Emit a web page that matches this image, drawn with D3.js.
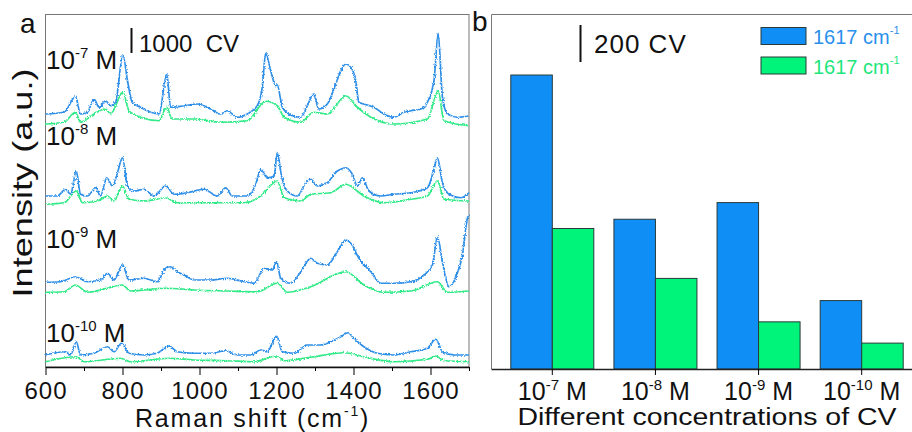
<!DOCTYPE html>
<html>
<head>
<meta charset="utf-8">
<script src="https://cdn.jsdelivr.net/npm/d3@7"></script>
<style>
  body { margin: 0; background: #fff; }
  svg { font-family: Arial, "Liberation Sans", sans-serif; }
</style>
</head>
<body>
<div id="chart"></div>
<script>
// ---- panel a: SERS spectra, [Raman shift, intensity] ----
const blue7 = [[600,10120],[648,10190],[678,10810],[691,10120],[709,10190],[726,10720],[739,10390],[756,10650],[769,10450],[782,10590],[801,12490],[813,11450],[825,10590],[847,10390],[873,10190],[895,10120],[915,11720],[925,10390],[960,10450],[994,10520],[1029,10320],[1055,10120],[1072,10250],[1098,9990],[1124,10120],[1150,10450],[1163,11190],[1172,12550],[1185,11850],[1198,11250],[1202,11290],[1215,10390],[1241,10050],[1263,9990],[1280,10450],[1296,10920],[1310,10320],[1332,10520],[1354,11320],[1367,11850],[1380,12120],[1393,11990],[1406,11450],[1414,10590],[1427,10520],[1453,10390],[1479,10120],[1505,9990],[1531,10190],[1549,10250],[1575,10320],[1592,10590],[1609,11450],[1620,13350],[1631,10790],[1644,10120],[1670,9990],[1700,10050]];
const green7 = [[600,9720],[648,9790],[678,10190],[691,9790],[726,10120],[756,10320],[769,10120],[801,10990],[817,10250],[847,9990],[895,9850],[915,10390],[929,9920],[986,9920],[1055,9790],[1124,9850],[1172,10630],[1202,10450],[1220,9990],[1263,9790],[1296,10190],[1332,10120],[1380,10850],[1410,10390],[1445,9990],[1505,9720],[1592,9920],[1620,11050],[1635,9850],[1700,9650]];

const blue8 = [[600,6840],[631,6840],[652,7110],[665,6910],[680,7840],[691,6910],[709,6840],[730,7170],[743,6840],[759,7570],[774,7240],[787,7770],[800,8370],[813,7240],[830,7040],[856,7110],[882,6840],[912,7240],[934,6910],[968,6970],[1012,7110],[1046,6840],[1068,7170],[1085,6840],[1124,6840],[1146,7310],[1159,7910],[1176,7570],[1194,7640],[1202,8570],[1213,7640],[1228,7040],[1254,6840],[1276,7370],[1289,7510],[1306,7240],[1332,7370],[1358,7840],[1367,7910],[1380,7970],[1397,7710],[1410,7240],[1423,7570],[1440,7040],[1471,6840],[1505,6910],[1549,6970],[1592,7170],[1609,7910],[1618,8370],[1631,7370],[1648,6910],[1679,6770],[1700,6970]];
const green8 = [[600,6510],[648,6570],[680,7040],[696,6570],[735,6640],[761,6840],[778,6640],[800,7240],[817,6710],[856,6640],[912,6770],[942,6570],[1029,6570],[1116,6570],[1159,6840],[1202,7440],[1220,6770],[1263,6640],[1289,6910],[1341,6970],[1380,7310],[1427,6840],[1479,6570],[1549,6710],[1592,6840],[1618,7440],[1635,6710],[1700,6640]];

const blue9 = [[600,3390],[639,3410],[678,3610],[709,3410],[743,3480],[761,3750],[778,3480],[800,4080],[817,3480],[856,3550],[890,3410],[912,3950],[925,4010],[942,3810],[960,3680],[986,3480],[1029,3480],[1072,3550],[1116,3410],[1142,3350],[1168,3950],[1189,3880],[1200,4210],[1211,3550],[1237,3350],[1263,3810],[1289,4350],[1306,4150],[1332,4080],[1358,4610],[1380,5080],[1393,4950],[1414,4350],[1445,3810],[1471,3350],[1505,3350],[1549,3410],[1583,3680],[1605,4080],[1618,5210],[1631,4210],[1648,3210],[1666,3610],[1683,4480],[1696,5950],[1700,6080]];
const green9 = [[600,2990],[648,3010],[678,3280],[709,2990],[761,3150],[800,3280],[821,3040],[912,3150],[986,3080],[1072,3040],[1150,3010],[1202,3350],[1228,2990],[1289,3210],[1380,3810],[1427,3280],[1479,2990],[1549,3040],[1618,3410],[1644,2990],[1700,3040]];

const blue10 = [[600,480],[652,610],[665,480],[680,1010],[691,480],[726,550],[761,810],[778,610],[797,950],[817,550],[856,480],[890,550],[921,840],[942,610],[986,550],[1029,550],[1068,650],[1098,480],[1133,480],[1159,680],[1176,610],[1200,1240],[1215,610],[1246,550],[1280,880],[1315,880],[1341,1010],[1367,1210],[1386,1370],[1401,1150],[1427,810],[1462,550],[1505,480],[1549,610],[1592,750],[1614,1110],[1631,610],[1661,480],[1700,480]];
const green10 = [[600,210],[680,410],[700,210],[795,350],[821,210],[921,350],[986,280],[1072,250],[1142,210],[1200,440],[1220,250],[1289,390],[1375,570],[1427,410],[1505,210],[1592,310],[1614,440],[1635,250],[1700,210]];

const spectraBlue = [blue7, blue8, blue9, blue10];
const spectraGreen = [green7, green8, green9, green10];
const spectraLabels = ["-7", "-8", "-9", "-10"];
const spectraLabelLevels = [11930, 8880, 4760, 1000];
const xTicksA = [600, 800, 1000, 1200, 1400, 1600];
const xMinorA = [700, 900, 1100, 1300, 1500, 1700];

// ---- panel b: 1617 cm-1 peak intensity per concentration ----
const concentrations = ["-7", "-8", "-9", "-10"];
const peakBlue = [1590, 810, 900, 370];
const peakGreen = [760, 490, 255, 140];
const legendLabels = ["1617 cm", "1617 cm"];

const blueLine = "#2e8fe8", greenLine = "#30ea88";
const blueBar = "#0f8ff6", greenBar = "#00f47a";

const svg = d3.select("#chart").append("svg")
  .attr("width", 912).attr("height", 432);

// rough texture so the spectra look like measured, noisy traces
const defs = svg.append("defs");
const rough = defs.append("filter").attr("id", "rough")
  .attr("x", "-2%").attr("y", "-20%").attr("width", "104%").attr("height", "140%");
rough.append("feTurbulence")
  .attr("type", "fractalNoise").attr("baseFrequency", "0.9 0.6")
  .attr("numOctaves", 2).attr("seed", 3).attr("result", "n");
rough.append("feDisplacementMap")
  .attr("in", "SourceGraphic").attr("in2", "n")
  .attr("scale", 3.2).attr("xChannelSelector", "R").attr("yChannelSelector", "G");

function drawSpectra() {
  const x = d3.scaleLinear().domain([600, 1700]).range([45.5, 469]);
  const y = d3.scaleLinear().domain([0, 14120]).range([367, 14]);

  const g = svg.append("g");

  g.append("rect")
    .attr("x", 45.5).attr("y", 14.5)
    .attr("width", 469 - 45.5).attr("height", 367 - 14.5)
    .attr("fill", "none").attr("stroke", "#777").attr("stroke-width", 1);

  const line = d3.line()
    .x(d => x(d[0]))
    .y(d => y(d[1]))
    .curve(d3.curveMonotoneX);

  const traces = g.append("g").attr("filter", "url(#rough)");

  spectraGreen.forEach(s => {
    traces.append("path").datum(s)
      .attr("d", line).attr("fill", "none")
      .attr("stroke", greenLine).attr("stroke-width", 1.7)
      .attr("stroke-linejoin", "round");
  });
  spectraBlue.forEach(s => {
    traces.append("path").datum(s)
      .attr("d", line).attr("fill", "none")
      .attr("stroke", blueLine).attr("stroke-width", 1.7)
      .attr("stroke-linejoin", "round");
  });

  spectraLabels.forEach((lab, i) => {
    let t = g.append("text")
      .attr("x", 46).attr("y", y(spectraLabelLevels[i]))
      .attr("font-size", 26).attr("fill", "#111");
    t.append("tspan").text("10");
    t.append("tspan").text(lab).attr("font-size", 15).attr("dy", -11);
    t.append("tspan").text(" M").attr("dy", 11);
  });

  // 1000 CV scale bar
  g.append("line")
    .attr("x1", 131.5).attr("x2", 131.5)
    .attr("y1", y(0)).attr("y2", y(1000))
    .attr("transform", "translate(0," + (53 - y(0)) + ")")
    .attr("stroke", "#111").attr("stroke-width", 2);
  g.append("text")
    .attr("x", 139).attr("y", 52)
    .attr("font-size", 24).attr("fill", "#111")
    .attr("xml:space", "preserve")
    .text("1000  CV");

  const axis = g.append("g")
    .attr("transform", "translate(0,367)")
    .call(d3.axisBottom(x).tickValues(xTicksA).tickFormat(d3.format("d"))
      .tickSize(8).tickSizeOuter(0).tickPadding(7));
  axis.select(".domain").attr("stroke", "#111").attr("stroke-width", 1.3);
  axis.selectAll("text").attr("font-size", 24).attr("fill", "#111")
    .attr("font-family", "Arial, 'Liberation Sans', sans-serif")
    .style("letter-spacing", "1px");

  g.append("g")
    .attr("transform", "translate(0,367)")
    .call(d3.axisBottom(x).tickValues(xMinorA).tickSize(4).tickFormat(""))
    .select(".domain").remove();

  let xl = g.append("text")
    .attr("x", 135).attr("y", 427)
    .attr("font-size", 25).attr("fill", "#111")
    .style("letter-spacing", "1.8px");
  xl.append("tspan").text("Raman shift (cm");
  xl.append("tspan").text("-1").attr("font-size", 14).attr("dy", -11);
  xl.append("tspan").text(")").attr("dy", 11);

  g.append("text")
    .attr("transform", "translate(32,183) rotate(-90)")
    .attr("text-anchor", "middle")
    .attr("font-size", 28).attr("fill", "#111")
    .attr("textLength", 229).attr("lengthAdjust", "spacingAndGlyphs")
    .text("Intensity (a.u.)");

  g.append("text")
    .attr("x", 20).attr("y", 33)
    .attr("font-size", 28).attr("fill", "#111")
    .text("a");
}

function drawBars() {
  const x0 = d3.scaleBand().domain(concentrations)
    .range([501, 913]).paddingInner(0.195).paddingOuter(0.095);
  const x1 = d3.scaleBand().domain(["blue", "green"])
    .range([0, x0.bandwidth()]);
  const y = d3.scaleLinear().domain([0, 1920]).range([369, 14]);

  const g = svg.append("g");

  g.append("path")
    .attr("d", "M912,14.5H491.5V369")
    .attr("fill", "none").attr("stroke", "#777").attr("stroke-width", 1);

  const groups = g.selectAll(".grp")
    .data(concentrations.map((c, i) => ({c: c, blue: peakBlue[i], green: peakGreen[i]})))
    .enter().append("g")
    .attr("class", "grp")
    .attr("transform", d => "translate(" + x0(d.c) + ",0)");

  groups.selectAll("rect")
    .data(d => [{k: "blue", v: d.blue}, {k: "green", v: d.green}])
    .enter().append("rect")
    .attr("x", d => x1(d.k))
    .attr("y", d => y(d.v))
    .attr("width", x1.bandwidth())
    .attr("height", d => y(0) - y(d.v))
    .attr("fill", d => d.k === "blue" ? blueBar : greenBar)
    .attr("stroke", "#2a3a3a").attr("stroke-width", 1);

  const axis = g.append("g")
    .attr("transform", "translate(0,369)")
    .call(d3.axisBottom(x0).tickSize(6).tickSizeOuter(0).tickFormat(""));
  axis.select(".domain").attr("d", "M491.5,0.5H912").attr("stroke", "#222").attr("stroke-width", 1.3);

  concentrations.forEach(c => {
    let t = g.append("text")
      .attr("x", x0(c) + x0.bandwidth() / 2).attr("y", 400)
      .attr("text-anchor", "middle")
      .attr("font-size", 25).attr("fill", "#111");
    t.append("tspan").text("10");
    t.append("tspan").text(c).attr("font-size", 15).attr("dy", -10);
    t.append("tspan").text(" M").attr("dy", 10);
  });

  g.append("text")
    .attr("x", 707).attr("y", 425)
    .attr("text-anchor", "middle")
    .attr("font-size", 23).attr("fill", "#111")
    .attr("textLength", 379).attr("lengthAdjust", "spacingAndGlyphs")
    .text("Different concentrations of CV");

  // 200 CV scale bar
  g.append("line")
    .attr("x1", 580.5).attr("x2", 580.5)
    .attr("y1", 62).attr("y2", 62 - (y(0) - y(200)))
    .attr("stroke", "#111").attr("stroke-width", 2);
  g.append("text")
    .attr("x", 594).attr("y", 53)
    .attr("font-size", 26).attr("fill", "#111")
    .style("letter-spacing", "1px")
    .text("200 CV");

  // legend
  const legendColors = [blueBar, greenBar];
  const legendText = ["#2a90ec", "#1ee67c"];
  legendLabels.forEach((lab, i) => {
    g.append("rect")
      .attr("x", 761).attr("y", 27.5 + i * 29.5)
      .attr("width", 45).attr("height", 17)
      .attr("fill", legendColors[i])
      .attr("stroke", "#2a3a3a").attr("stroke-width", 1);
    let t = g.append("text")
      .attr("x", 813).attr("y", 44 + i * 29.5)
      .attr("font-size", 20).attr("fill", legendText[i]);
    t.append("tspan").text(lab);
    t.append("tspan").text("-1").attr("font-size", 11).attr("dy", -10);
  });

  g.append("text")
    .attr("x", 472).attr("y", 31)
    .attr("font-size", 28).attr("fill", "#111")
    .text("b");
}

drawSpectra();
drawBars();
</script>
</body>
</html>
